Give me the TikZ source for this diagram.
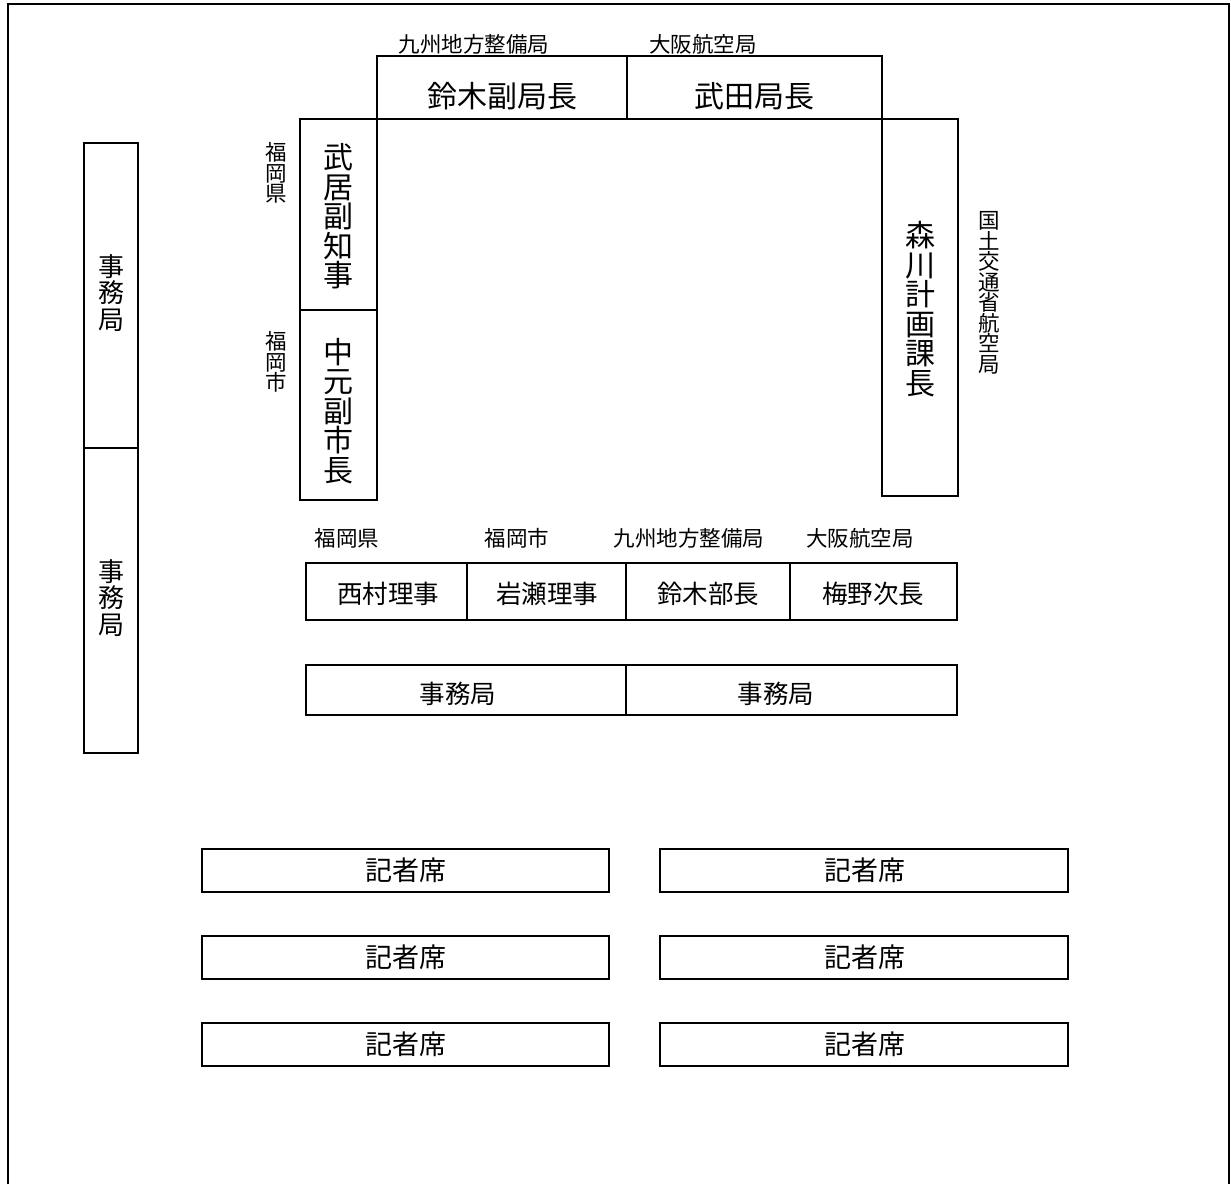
\documentclass[tikz,border=0pt]{standalone}
\usepackage{fontspec}
\setmainfont{Noto Sans CJK JP}
\begin{document}
\begin{tikzpicture}[x=1pt,y=-1pt,
  box/.style={draw, line width=1.4pt, inner sep=0pt},
  frame/.style={draw, line width=1.6pt},
  big/.style={font=\fontsize{30}{29.5}\selectfont, align=center, inner sep=0pt},
  mid/.style={font=\fontsize{25.5}{26}\selectfont, align=center, inner sep=0pt},
  pre/.style={font=\fontsize{27}{27}\selectfont, align=center, inner sep=0pt},
  vmid/.style={font=\fontsize{26}{26.5}\selectfont, align=center, inner sep=0pt},
  small/.style={font=\fontsize{21.5}{20.5}\selectfont, align=center, inner sep=0pt}]
\useasboundingbox (0,0) rectangle (1231,1184);
\fill[white] (0,0) rectangle (1231,1184);
% outer frame (bottom runs off the page)
\coordinate (fbl) at (8,1184);
\coordinate (ftl) at (8,4);
\coordinate (ftr) at (1229,4);
\coordinate (fbr) at (1229,1184);
\draw[frame] (fbl) -- (ftl) -- (ftr) -- (fbr);

% top boxes
\node[box, minimum width=250, minimum height=63] (sz) at (502,87.5) {};
\node[box, minimum width=255, minimum height=63] (td) at (754.5,87.5) {};
\node[big] (szt) at (502,96) {鈴木副局長};
\node[big] (tdt) at (754.5,96) {武田局長};
\node[small] (l1) at (474,44) {九州地方整備局};
\node[small] (l2) at (703,44) {大阪航空局};

% left column
\node[box, minimum width=77, minimum height=191] (tk) at (338.5,214.5) {};
\node[box, minimum width=77, minimum height=190] (nk) at (338.5,405) {};
\node[big] (tkt) at (338.5,216.5) {武\\居\\副\\知\\事};
\node[big] (nkt) at (338.5,411) {中\\元\\副\\市\\長};
\node[small] (l3) at (276,173) {福\\岡\\県};
\node[small] (l4) at (276,362) {福\\岡\\市};

% right column
\node[box, minimum width=76, minimum height=377] (mk) at (920,307.5) {};
\node[big] (mkt) at (920,309) {森\\川\\計\\画\\課\\長};
\node[small] (l5) at (989,293) {国\\土\\交\\通\\省\\航\\空\\局};

% left secretariat
\node[box, minimum width=54, minimum height=305] (j1) at (111,295.5) {};
\node[box, minimum width=54, minimum height=305] (j2) at (111,600.5) {};
\node[vmid] (j1t) at (111,293) {事\\務\\局};
\node[vmid] (j2t) at (111,598) {事\\務\\局};

% row of four
\node[box, minimum width=161, minimum height=57] (r1) at (386.5,591.5) {};
\node[box, minimum width=159, minimum height=57] (r2) at (546.5,591.5) {};
\node[box, minimum width=164, minimum height=57] (r3) at (708,591.5) {};
\node[box, minimum width=167, minimum height=57] (r4) at (873.5,591.5) {};
\node[mid] (r1t) at (388,594) {西村理事};
\node[mid] (r2t) at (547,594) {岩瀬理事};
\node[mid] (r3t) at (708,594) {鈴木部長};
\node[mid] (r4t) at (873,594) {梅野次長};
\node[small] (l6) at (347,538) {福岡県};
\node[small] (l7) at (517,538) {福岡市};
\node[small] (l8) at (689,538) {九州地方整備局};
\node[small] (l9) at (860,538) {大阪航空局};

% secretariat row
\node[box, minimum width=320, minimum height=50] (s1) at (466,690) {};
\node[box, minimum width=331, minimum height=50] (s2) at (791.5,690) {};
\node[mid] (s1t) at (458,694) {事務局};
\node[mid] (s2t) at (776,694) {事務局};

% press seats
\foreach \i/\y in {1/870.5,2/957.5,3/1044.5}{
  \node[box, minimum width=407, minimum height=43] (pl\i) at (405.5,\y) {};
  \node[box, minimum width=408, minimum height=43] (pr\i) at (864,\y) {};
  \node[pre] (plt\i) at (406,\y) {記者席};
  \node[pre] (prt\i) at (865,\y) {記者席};
}
\end{tikzpicture}
\end{document}
